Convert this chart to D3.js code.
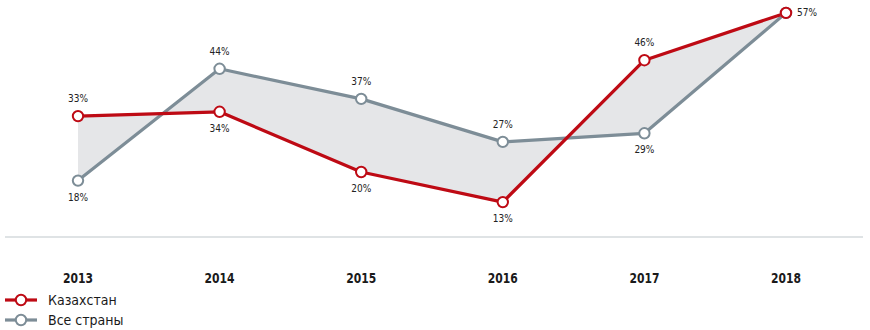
<!DOCTYPE html>
<html><head><meta charset="utf-8">
<script src="https://cdn.jsdelivr.net/npm/d3@7"></script>
<style>
body{margin:0;background:#fff;}
svg{display:block;font-family:"DejaVu Sans Condensed","Liberation Sans Narrow",sans-serif;font-stretch:condensed;}
</style></head>
<body><svg id="c" width="870" height="330"></svg>
<script>
const years = ["2013","2014","2015","2016","2017","2018"];
const kazakhstan = [33, 34, 20, 13, 46, 57];
const allCountries = [18, 44, 37, 27, 29, 57];
const seriesNames = ["Казахстан", "Все страны"];
const colors = ["#BE0A14", "#7D8D97"];

const svg = d3.select("#c");
const x = d3.scalePoint().domain(years).range([78, 786]);
const y = d3.scaleLinear().domain([0, 60]).range([258, 0]);

const rows = years.map((yr, i) => ({yr, a: kazakhstan[i], b: allCountries[i]}));

svg.append("path")
  .datum(rows)
  .attr("fill", "#E5E6E8")
  .attr("d", d3.area().x(d => x(d.yr)).y0(d => y(d.a)).y1(d => y(d.b)));

svg.append("line").attr("x1", 5).attr("x2", 863).attr("y1", 237).attr("y2", 237)
  .attr("stroke", "#D5DADD").attr("stroke-width", 1.5);

svg.append("g").selectAll("text").data(years).join("text")
  .attr("x", d => x(d)).attr("y", 283).attr("text-anchor", "middle")
  .attr("font-size", 14).attr("font-weight", "bold").attr("fill", "#1a1a1a")
  .attr("textLength", 30).attr("lengthAdjust", "spacingAndGlyphs")
  .text(d => d);

const series = [kazakhstan, allCountries];
const line = d3.line().x((d, i) => x(years[i])).y(d => y(d));
[1, 0].forEach(s => {
  svg.append("path").datum(series[s]).attr("fill", "none")
    .attr("stroke", colors[s]).attr("stroke-width", 3.2)
    .attr("stroke-linejoin", "round").attr("d", line);
});
[1, 0].forEach(s => {
  svg.append("g").selectAll("circle").data(series[s]).join("circle")
    .attr("cx", (d, i) => x(years[i])).attr("cy", d => y(d)).attr("r", 5.2)
    .attr("fill", "#fff").attr("stroke", colors[s]).attr("stroke-width", 2);
});

const lbl = svg.append("g").attr("font-size", 10).attr("fill", "#222");
rows.forEach((r, i) => {
  const cx = x(r.yr);
  if (r.a === r.b) {
    lbl.append("text").attr("x", cx + 11).attr("y", y(r.a) + 3.5).text(r.a + "%");
    return;
  }
  const hi = Math.max(r.a, r.b), lo = Math.min(r.a, r.b);
  lbl.append("text").attr("x", cx).attr("y", y(hi) - 14).attr("text-anchor", "middle").text(hi + "%");
  lbl.append("text").attr("x", cx).attr("y", y(lo) + 20).attr("text-anchor", "middle").text(lo + "%");
});

const lg = svg.append("g");
seriesNames.forEach((n, i) => {
  const yy = 300 + i * 20;
  lg.append("line").attr("x1", 5).attr("x2", 37).attr("y1", yy).attr("y2", yy)
    .attr("stroke", colors[i]).attr("stroke-width", 3.2);
  lg.append("circle").attr("cx", 21).attr("cy", yy).attr("r", 5.2)
    .attr("fill", "#fff").attr("stroke", colors[i]).attr("stroke-width", 2);
  lg.append("text").attr("x", 48).attr("y", yy + 5).attr("font-size", 14)
    .attr("fill", "#1a1a1a").text(n);
});
</script></body></html>
